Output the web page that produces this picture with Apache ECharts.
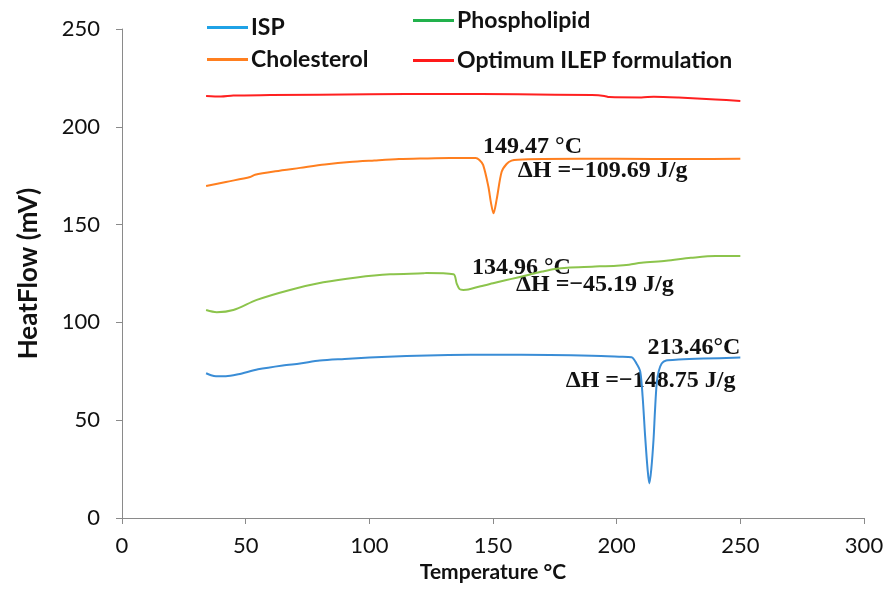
<!DOCTYPE html>
<html>
<head>
<meta charset="utf-8">
<script src="https://cdn.jsdelivr.net/npm/echarts@6/dist/echarts.min.js"></script>
<style>html,body{margin:0;padding:0;background:#fff}#c{width:891px;height:612px}</style>
</head>
<body>
<div id="c"></div>
<script>
// Series names
const seriesNames = ['ISP', 'Phospholipid', 'Cholesterol', 'Optimum ILEP formulation'];

// ISP (blue)
const ispX = [34, 36, 38, 42, 47, 55, 65, 72, 80, 90, 100, 115, 132, 150, 173, 190, 201, 206, 208, 209.5, 210.5, 211.5, 212.5, 213.2, 214, 214.9, 215.5, 216.2, 217, 218.2, 220, 225, 235, 250];
const ispY = [74, 73, 72.5, 72.5, 73.5, 76, 78, 79, 80.5, 81.3, 82, 82.8, 83.3, 83.5, 83.3, 83, 82.5, 82.2, 79, 75, 62, 42, 25, 17.7, 25, 40, 55, 69, 75, 79, 80.5, 81, 81.5, 82];

// Phospholipid (green)
const phosX = [34, 38.3, 45, 54.5, 67.9, 81.4, 94.9, 108.4, 121.8, 123, 134, 135.3, 136.5, 138, 140, 145, 150, 155, 160, 165, 170, 175, 180, 190, 200, 205, 210, 220, 230, 240, 250];
const phosY = [106.3, 105.2, 106.3, 111.5, 116.6, 120.5, 123, 124.6, 125.1, 125.3, 124.6, 120, 117, 116.6, 116.8, 118.5, 120, 121.5, 123, 124.5, 126, 127.3, 128, 128.5, 129, 129.5, 130.5, 131.5, 133, 134, 134];

// Cholesterol (orange)
const cholX = [34, 42, 51.8, 53.8, 62, 72, 82, 92, 102, 112, 122, 132.6, 143, 144.5, 146, 148.1, 149.2, 150.2, 151.5, 153.5, 155.5, 157.5, 160, 170, 200, 230, 250];
const cholY = [169.7, 171.8, 174.3, 175.5, 177.3, 179, 180.7, 182, 182.8, 183.5, 183.8, 184, 184, 183, 180.5, 169.6, 161, 155.8, 163, 177, 181, 182.7, 183.2, 183.5, 183.7, 183.5, 183.7];

// Optimum ILEP formulation (red)
const redX = [34, 40, 45, 60, 100, 130, 160, 190, 195, 197, 210, 215, 225, 240, 250];
const redY = [215.8, 215.5, 216, 216.2, 216.6, 216.8, 216.6, 216.2, 215.8, 215.2, 215, 215.4, 215, 214, 213.2];

// Axis ticks
const xTicks = [0, 50, 100, 150, 200, 250, 300];
const yTicks = [0, 50, 100, 150, 200, 250];

// Annotations: [text, x, y, align]
const annotations = [
  ['149.47 \u00B0C', 146, 189.7, 'left'],
  ['\u0394H =\u2212109.69 J/g', 160, 177.4, 'left'],
  ['134.96 \u00B0C', 141.5, 127.8, 'left'],
  ['\u0394H =\u221245.19 J/g', 159.3, 119.1, 'left'],
  ['213.46\u00B0C', 250, 86.9, 'right'],
  ['\u0394H =\u2212148.75 J/g', 248, 70, 'right']
];

const curveColors = ['#3A8DD6', '#8CC44C', '#FF7F1F', '#FF2020'];
const legendColors = ['#1FA2E6', '#22B14C', '#FF7F1F', '#FF1A1A'];

function pairs(xs, ys) { return xs.map((x, i) => [x, ys[i]]); }
const allData = [pairs(ispX, ispY), pairs(phosX, phosY), pairs(cholX, cholY), pairs(redX, redY)];

const legendPos = [
  {left: 207, top: 16},
  {left: 413, top: 9},
  {left: 207, top: 48},
  {left: 413, top: 49}
];

const chart = echarts.init(document.getElementById('c'), null, {renderer: 'canvas'});
const fontFam = 'Lato, "Open Sans", sans-serif';

const option = {
  animation: false,
  backgroundColor: '#fff',
  grid: {left: 122, right: 27, top: 29, bottom: 94, containLabel: false},
  legend: seriesNames.map((n, i) => ({
    data: [{name: n, itemStyle: {color: legendColors[i]}}],
    left: legendPos[i].left, top: legendPos[i].top, padding: 0,
    icon: 'rect', itemWidth: 41, itemHeight: 3, itemGap: 4,
    textStyle: {fontFamily: fontFam, fontWeight: 'bold', fontSize: 23, color: '#111', padding: [0, 0, 0, -2]},
    selectedMode: false
  })),
  xAxis: {
    type: 'value', min: xTicks[0], max: xTicks[xTicks.length - 1], interval: 50,
    name: 'Temperature \u00B0C', nameLocation: 'middle', nameGap: 42,
    nameTextStyle: {fontFamily: fontFam, fontWeight: 'bold', fontSize: 21, color: '#111'},
    axisLine: {show: true, lineStyle: {color: '#8a8a8a', width: 1}},
    axisTick: {show: true, inside: false, length: 6, lineStyle: {color: '#8a8a8a'}},
    axisLabel: {fontFamily: fontFam, fontSize: 22, color: '#111', margin: 17},
    splitLine: {show: false}
  },
  yAxis: {
    type: 'value', min: yTicks[0], max: yTicks[yTicks.length - 1], interval: 50,
    name: 'HeatFlow (mV)', nameLocation: 'middle', nameGap: 80,
    nameTextStyle: {fontFamily: fontFam, fontWeight: 'bold', fontSize: 26, color: '#111'},
    axisLine: {show: true, lineStyle: {color: '#8a8a8a', width: 1}},
    axisTick: {show: true, inside: false, length: 6, lineStyle: {color: '#8a8a8a'}},
    axisLabel: {fontFamily: fontFam, fontSize: 22, color: '#111', margin: 22},
    splitLine: {show: false}
  },
  series: seriesNames.map((n, i) => ({
    name: n, type: 'line', data: allData[i], showSymbol: false, symbol: 'none',
    smooth: 0.3, lineStyle: {color: curveColors[i], width: 2}, itemStyle: {color: curveColors[i]}
  }))
};
chart.setOption(option);

const graphics = annotations.map(a => {
  const p = chart.convertToPixel({gridIndex: 0}, [a[1], a[2]]);
  return {
    type: 'text', x: p[0], y: p[1],
    style: {text: a[0], fill: '#111', font: 'bold 24px "Liberation Serif", "Times New Roman", serif',
      textAlign: a[3], textVerticalAlign: 'middle'}
  };
});
chart.setOption({graphic: graphics});
</script>
</body>
</html>
